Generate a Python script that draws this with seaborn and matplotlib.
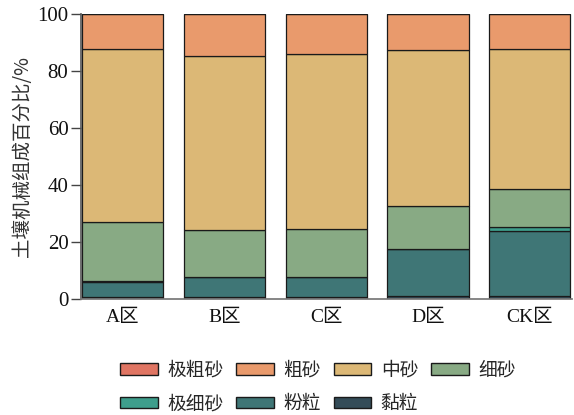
import matplotlib
matplotlib.use("Agg")
import matplotlib.pyplot as plt
import seaborn as sns
import pandas as pd
import numpy as np
from matplotlib.patches import Patch

sns.set_theme(style="ticks")
plt.rcParams["font.family"] = ["Liberation Serif", "Noto Sans CJK SC", "DejaVu Sans"]

# Sampling plots
regions = ["A区", "B区", "C区", "D区", "CK区"]

# Particle-size fractions (%), listed from bottom of the stack to top
clay = [0.6, 0.6, 0.6, 0.9, 0.9]              # 黏粒
silt = [5.5, 7.1, 7.1, 16.5, 23.0]            # 粉粒
very_fine_sand = [0.1, 0.1, 0.1, 0.1, 1.5]    # 极细砂
fine_sand = [20.9, 16.4, 16.9, 15.2, 13.3]    # 细砂
medium_sand = [60.5, 61.1, 61.2, 54.7, 49.0]  # 中砂
coarse_sand = [12.4, 14.6, 14.1, 12.6, 12.3]  # 粗砂
very_coarse_sand = [0.0, 0.1, 0.0, 0.0, 0.0]  # 极粗砂

fractions = ["黏粒", "粉粒", "极细砂", "细砂", "中砂", "粗砂", "极粗砂"]
values = [clay, silt, very_fine_sand, fine_sand, medium_sand, coarse_sand, very_coarse_sand]
colors = {
    "极粗砂": "#E07563",
    "粗砂": "#E99A6C",
    "中砂": "#DCB876",
    "细砂": "#88AA84",
    "极细砂": "#3E9E8C",
    "粉粒": "#3F7676",
    "黏粒": "#344C58",
}

df = pd.DataFrame({name: v for name, v in zip(fractions, values)}, index=regions)
bottoms = df.cumsum(axis=1) - df

fig = plt.figure(figsize=(5.74, 4.15), dpi=100)
ax = fig.add_axes([81 / 574, 1 - 299 / 415, 490.5 / 574, 285 / 415])

# Stacked bars, one layer per fraction
for name in fractions:
    sns.barplot(x=regions, y=df[name].values, bottom=bottoms[name].values,
                color=colors[name], ax=ax, width=0.8, edgecolor="#1a1a1a",
                linewidth=0.9, saturation=1, errorbar=None)

ax.set_xlim(-0.41, 4.41)
ax.set_ylim(0, 100)
ax.set_yticks([0, 20, 40, 60, 80, 100])
ax.set_ylabel("土壤机械组成百分比/%", fontsize=14, family=["Noto Sans CJK SC"],
              color="#333333", labelpad=3)
ax.tick_params(axis="y", labelsize=15, length=7, width=1, color="#444444", pad=2)
ax.tick_params(axis="x", labelsize=14, length=0, pad=7)
for lab in ax.get_yticklabels() + ax.get_xticklabels():
    lab.set_color("#111111")
for lab in ax.get_xticklabels():
    lab.set_family(["Liberation Serif", "Noto Sans CJK SC"])
ax.spines["top"].set_visible(False)
ax.spines["right"].set_visible(False)
ax.spines["left"].set_color("#555555")
ax.spines["bottom"].set_color("#777777")
ax.spines["left"].set_linewidth(1.2)

# Legend filled row by row (matplotlib fills columns first)
legend_order = ["极粗砂", "极细砂", "粗砂", "粉粒", "中砂", "黏粒", "细砂"]
handles = [Patch(facecolor=colors[n], edgecolor="#1a1a1a", linewidth=1.0, label=n)
           for n in legend_order]
fig.legend(handles=handles, ncol=4, frameon=False, loc="center",
           bbox_to_anchor=(318 / 574, 1 - 387 / 415), prop={"family": "Noto Sans CJK SC", "size": 13.5},
           handlelength=2.0, handleheight=0.6, handletextpad=0.5, columnspacing=0.7,
           labelspacing=0.65)

fig.savefig("out.png", dpi=100)
